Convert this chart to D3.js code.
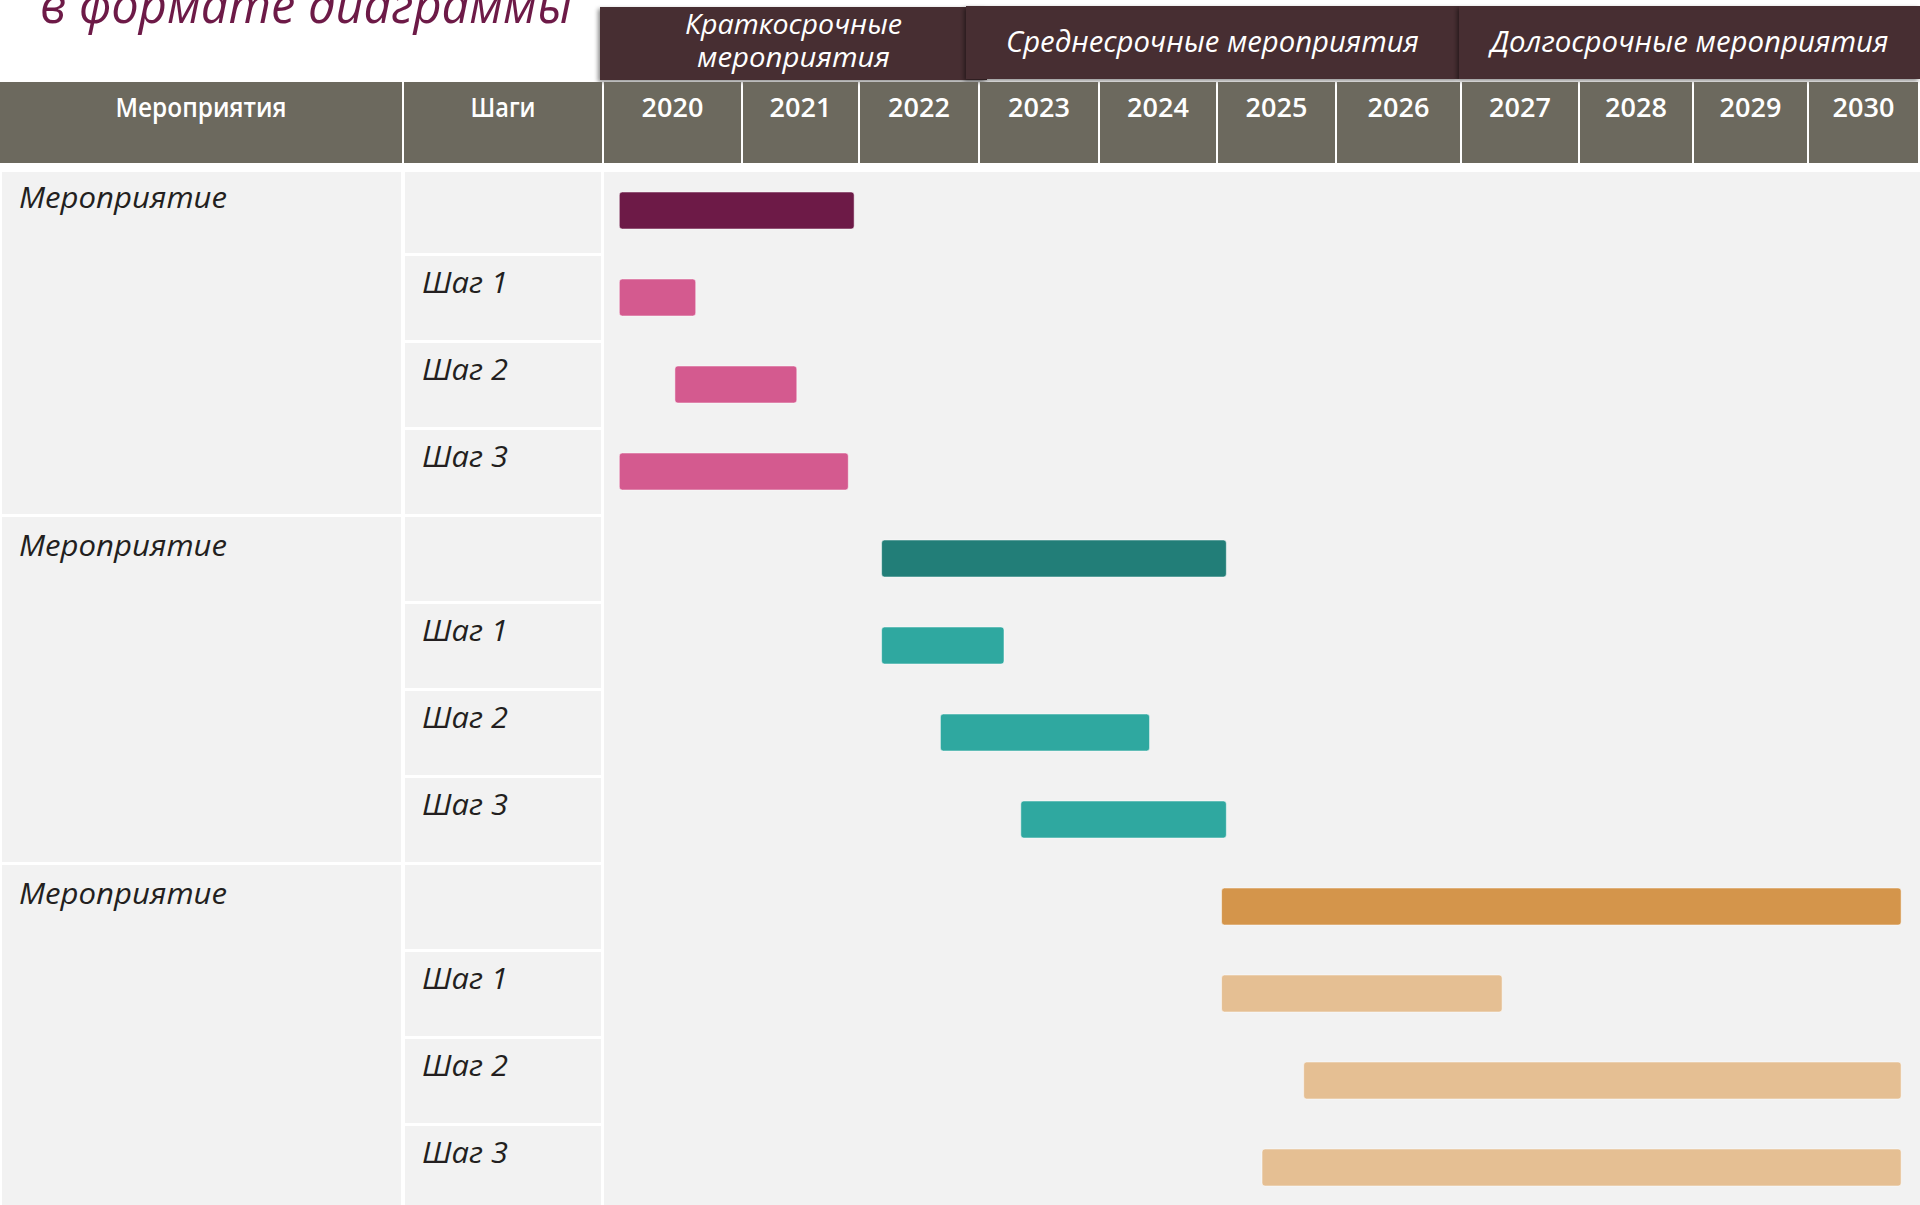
<!DOCTYPE html>
<html>
<head>
<meta charset="utf-8">
<title>Мероприятия в формате диаграммы</title>
<script src="https://cdn.jsdelivr.net/npm/d3@7"></script>
<style>
  body { margin: 0; background: #fff; }
  svg { display: block; }
  text { font-family: "Open Sans", "Noto Sans", sans-serif; }
</style>
</head>
<body>
<script>
  // data
  var years = [2020, 2021, 2022, 2023, 2024, 2025, 2026, 2027, 2028, 2029, 2030];
  var groupNames = ["Мероприятие", "Мероприятие", "Мероприятие"];
  var stepNames = ["", "Шаг 1", "Шаг 2", "Шаг 3"];
  var taskStart = [2020.11, 2020.11, 2020.51, 2020.11,
                   2022.18, 2022.18, 2022.67, 2023.34,
                   2025.03, 2025.03, 2025.72, 2025.37];
  var taskEnd   = [2021.95, 2020.66, 2021.46, 2021.90,
                   2025.07, 2023.20, 2024.42, 2025.07,
                   2030.83, 2027.34, 2030.83, 2030.83];
  var phaseLines = [["Краткосрочные", "мероприятия"], ["Среднесрочные мероприятия"], ["Долгосрочные мероприятия"]];
  var phaseStart = [2020, 2023, 2027];
  var phaseEnd = [2023, 2027, 2031];

  // layout
  var W = 1920, H = 1205;
  var colEdges = [604, 743, 860, 980, 1100, 1218, 1337, 1462, 1580, 1694, 1809, 1920];
  var headTop = 82, headBottom = 163, bodyTop = 172;
  var mainColors = ["#6d1a47", "#227e78", "#d4954b"];
  var stepColors = ["#d45a8f", "#2fa8a0", "#e5bf93"];

  var svg = d3.select("body").append("svg")
      .attr("width", W)
      .attr("height", H);

  var defs = svg.append("defs");
  defs.append("filter").attr("id", "shadow")
      .attr("x", "-5%").attr("y", "-10%").attr("width", "110%").attr("height", "130%")
    .append("feDropShadow")
      .attr("dx", -2).attr("dy", 2).attr("stdDeviation", 2)
      .attr("flood-color", "#000").attr("flood-opacity", 0.45);

  var x = d3.scaleLinear()
      .domain(years.concat([years[years.length - 1] + 1]))
      .range(colEdges);

  var rowIds = d3.range(groupNames.length * stepNames.length);
  var y = d3.scaleBand().domain(rowIds).range([167, 167 + 87 * rowIds.length]);

  // title (cut by the top edge, as in the slide)
  svg.append("text")
      .attr("x", 40).attr("y", 23)
      .attr("font-size", 52).attr("font-style", "italic")
      .attr("fill", "#6d1a47")
      .attr("textLength", 532).attr("lengthAdjust", "spacingAndGlyphs")
      .text("в формате диаграммы");

  // phase banners
  var bannerBox = [[-4, 7], [-14, -3], [-3, 0]];
  var banners = svg.append("g").selectAll("g")
      .data(phaseLines)
      .enter().append("g");
  banners.append("rect")
      .attr("x", function (d, i) { return x(phaseStart[i]) + bannerBox[i][0]; })
      .attr("y", function (d, i) { return i == 0 ? 7 : 6; })
      .attr("width", function (d, i) { return x(phaseEnd[i]) + bannerBox[i][1] - x(phaseStart[i]) - bannerBox[i][0]; })
      .attr("height", 73)
      .attr("fill", "#472f32")
      .attr("filter", "url(#shadow)");
  var lineWidths = { "Краткосрочные": 217, "мероприятия": 193, "Среднесрочные мероприятия": 413, "Долгосрочные мероприятия": 398 };
  banners.each(function (d, i) {
    var cx = (x(phaseStart[i]) + bannerBox[i][0] + x(phaseEnd[i]) + bannerBox[i][1]) / 2;
    var base = d.length > 1 ? 34 : 52;
    d3.select(this).selectAll("text")
        .data(d)
        .enter().append("text")
        .attr("x", cx)
        .attr("y", function (t, j) { return base + j * 33; })
        .attr("text-anchor", "middle")
        .attr("font-size", d.length > 1 ? 27 : 29).attr("font-style", "italic")
        .attr("fill", "#fff")
        .attr("textLength", function (t) { return lineWidths[t]; })
        .attr("lengthAdjust", "spacingAndGlyphs")
        .text(function (t) { return t; });
  });

  // header row
  var head = svg.append("g").attr("class", "head");
  var headCells = [
    { x0: 0, x1: 402, label: "Мероприятия", w: 171 },
    { x0: 404, x1: 602, label: "Шаги", w: 65 }
  ];
  years.forEach(function (yr) {
    headCells.push({ x0: x(yr), x1: x(yr + 1) - 2, label: String(yr), w: null });
  });
  head.selectAll("rect").data(headCells).enter().append("rect")
      .attr("x", function (d) { return d.x0; })
      .attr("y", headTop)
      .attr("width", function (d) { return d.x1 - d.x0; })
      .attr("height", headBottom - headTop)
      .attr("fill", "#6c695e");
  head.selectAll("text").data(headCells).enter().append("text")
      .attr("x", function (d) { return (d.x0 + d.x1) / 2; })
      .attr("y", 117)
      .attr("text-anchor", "middle")
      .attr("font-size", 27).attr("font-weight", 600)
      .attr("fill", "#fff")
      .each(function (d) {
        if (d.w) d3.select(this).attr("textLength", d.w).attr("lengthAdjust", "spacingAndGlyphs");
      })
      .text(function (d) { return d.label; });

  // body background
  var body = svg.append("g");
  var nSteps = stepNames.length;
  groupNames.forEach(function (name, gi) {
    var top = Math.max(y(gi * nSteps) + 2, bodyTop);
    var bottom = y(gi * nSteps + nSteps - 1) + y.bandwidth() - 1;
    body.append("rect")
        .attr("x", 2).attr("y", top)
        .attr("width", 399).attr("height", bottom - top)
        .attr("fill", "#f2f2f2");
    body.append("text")
        .attr("x", 19).attr("y", y(gi * nSteps) + 41)
        .attr("font-size", 30).attr("font-style", "italic")
        .attr("fill", "#231f20")
        .attr("textLength", 208).attr("lengthAdjust", "spacingAndGlyphs")
        .text(name);
  });
  rowIds.forEach(function (r) {
    var top = Math.max(y(r) + 2, bodyTop);
    var bottom = y(r) + y.bandwidth() - 1;
    body.append("rect")
        .attr("x", 405).attr("y", top)
        .attr("width", 196).attr("height", bottom - top)
        .attr("fill", "#f2f2f2");
    var label = stepNames[r % nSteps];
    if (label) {
      body.append("text")
          .attr("x", 422).attr("y", y(r) + 39)
          .attr("font-size", 30).attr("font-style", "italic")
          .attr("fill", "#231f20")
          .attr("textLength", 86).attr("lengthAdjust", "spacingAndGlyphs")
          .text(label);
    }
  });
  body.append("rect")
      .attr("x", x(years[0])).attr("y", bodyTop)
      .attr("width", x(years[years.length - 1] + 1) - x(years[0]))
      .attr("height", H - bodyTop)
      .attr("fill", "#f2f2f2");

  // bars
  var barH = 37;
  svg.append("g").selectAll("rect")
      .data(rowIds)
      .enter().append("rect")
      .attr("x", function (r) { return x(taskStart[r]); })
      .attr("y", function (r) { return y(r) + (y.bandwidth() - barH) / 2; })
      .attr("width", function (r) { return x(taskEnd[r]) - x(taskStart[r]); })
      .attr("height", barH)
      .attr("rx", 3)
      .attr("fill", function (r) {
        var gi = Math.floor(r / nSteps);
        return r % nSteps == 0 ? mainColors[gi] : stepColors[gi];
      })
      .attr("stroke", "#fff").attr("stroke-opacity", 0.5).attr("stroke-width", 1);
</script>
</body>
</html>
